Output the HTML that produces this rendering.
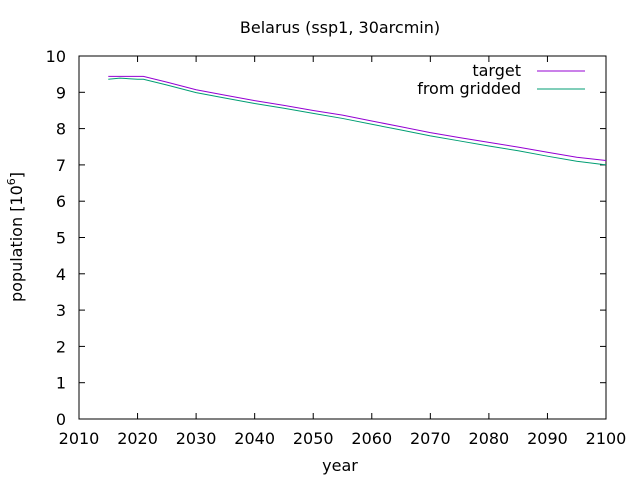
<!DOCTYPE html>
<html><head><meta charset="utf-8"><style>
body{margin:0;background:#fff}
svg text{font-family:"DejaVu Sans","Liberation Sans",sans-serif;font-size:16px;fill:#000}
</style></head><body>
<svg id="chart" width="640" height="480" xmlns="http://www.w3.org/2000/svg">
<rect width="640" height="480" fill="#fff"/>
<text x="340" y="33" text-anchor="middle">Belarus (ssp1, 30arcmin)</text>
<text x="340" y="471" text-anchor="middle">year</text>
<text transform="translate(22,237) rotate(-90)" text-anchor="middle">population [10<tspan dy="-7" font-size="11">6</tspan><tspan dy="7">]</tspan></text>
<g id="axes"></g>
<g id="series"></g>
<g>
<text x="521" y="76" text-anchor="end">target</text>
<line x1="537" y1="71" x2="585" y2="71" stroke="#9400d3" stroke-width="1"/>
<text x="521" y="94" text-anchor="end">from gridded</text>
<line x1="537" y1="89" x2="585" y2="89" stroke="#009e73" stroke-width="1"/>
</g>
</svg>
<script>
const years = [2015,2017,2020,2021,2025,2030,2035,2040,2045,2050,2055,2060,2065,2070,2075,2080,2085,2090,2095,2100];
const target = [9.44,9.44,9.44,9.44,9.28,9.07,8.92,8.77,8.64,8.50,8.37,8.21,8.05,7.89,7.75,7.62,7.49,7.35,7.21,7.12];
const gridded = [9.36,9.39,9.36,9.36,9.20,8.99,8.84,8.69,8.56,8.42,8.28,8.12,7.96,7.80,7.66,7.52,7.39,7.24,7.10,7.00];
const xTicks = [2010,2020,2030,2040,2050,2060,2070,2080,2090,2100];
const yTicks = [0,1,2,3,4,5,6,7,8,9,10];
const L=79,R=606,T=56,B=419;
const xs=v=>L+(v-2010)/90*(R-L);
const ys=v=>B-v/10*(B-T);
const NS="http://www.w3.org/2000/svg";
const axes=document.getElementById('axes');
function mk(tag,attrs,parent){const e=document.createElementNS(NS,tag);for(const k in attrs)e.setAttribute(k,attrs[k]);parent.appendChild(e);return e;}
const frame=mk('rect',{x:L,y:T,width:R-L,height:B-T,fill:'none',stroke:'#000','stroke-width':1},axes);


xTicks.forEach(t=>{
  const x=xs(t);
  mk('line',{x1:x,y1:B,x2:x,y2:B-6,stroke:'#000'},axes);
  mk('line',{x1:x,y1:T,x2:x,y2:T+6,stroke:'#000'},axes);
  const tx=mk('text',{x:x,y:B+25,'text-anchor':'middle'},axes);
  tx.textContent=t;
  
  
});
yTicks.forEach(t=>{
  const y=ys(t);
  mk('line',{x1:L,y1:y,x2:L+6,y2:y,stroke:'#000'},axes);
  mk('line',{x1:R,y1:y,x2:R-6,y2:y,stroke:'#000'},axes);
  const tx=mk('text',{x:L-13,y:y+6,'text-anchor':'end'},axes);
  tx.textContent=t;
  
  
});
const series=document.getElementById('series');
function line(vals,color,name){
  const p=mk('polyline',{points:years.map((y,i)=>xs(y)+','+ys(vals[i])).join(' '),fill:'none',stroke:color,'stroke-width':1},series);
  
  
}
line(target,'#9400d3','target-line');
line(gridded,'#009e73','gridded-line');
</script>
</body></html>
